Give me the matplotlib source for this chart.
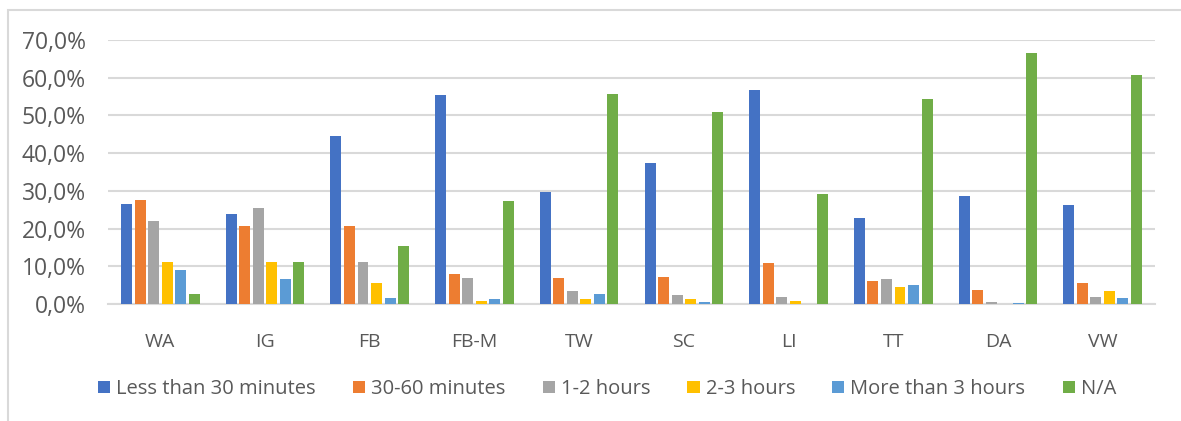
import numpy as np
import matplotlib.pyplot as plt
from matplotlib.patches import Rectangle

categories = ['WA', 'IG', 'FB', 'FB-M', 'TW', 'SC', 'LI', 'TT', 'DA', 'VW']
series_names = ['Less than 30 minutes', '30-60 minutes', '1-2 hours',
                '2-3 hours', 'More than 3 hours', 'N/A']
less_30 = [26.5, 23.8, 44.6, 55.4, 29.7, 37.4, 56.8, 22.7, 28.6, 26.3]
min_30_60 = [27.6, 20.7, 20.7, 7.9, 6.8, 7.2, 10.9, 6.0, 3.6, 5.7]
hours_1_2 = [22.0, 25.5, 11.2, 6.8, 3.4, 2.3, 1.9, 6.7, 0.5, 1.9]
hours_2_3 = [11.2, 11.2, 5.7, 0.8, 1.2, 1.2, 0.8, 4.4, 0.0, 3.4]
more_3 = [9.1, 6.7, 1.5, 1.2, 2.7, 0.5, 0.0, 5.0, 0.2, 1.6]
na = [2.7, 11.2, 15.5, 27.2, 55.7, 50.9, 29.1, 54.4, 66.5, 60.6]

values = [less_30, min_30_60, hours_1_2, hours_2_3, more_3, na]
colors = ['#4472C4', '#ED7D31', '#A5A5A5', '#FFC000', '#5B9BD5', '#70AD47']

plt.rcParams['font.family'] = ['Open Sans', 'DejaVu Sans']
text_color = '#595959'
grid_color = '#D9D9D9'

W, H = 1181, 421
fig = plt.figure(figsize=(W / 100, H / 100), dpi=100)

# chart frame (cropped on right and bottom)
fig.patches.append(Rectangle((8 / W, -0.1), 1.2, 1 - 10 / H + 0.1,
                             transform=fig.transFigure, fill=False,
                             edgecolor=grid_color, linewidth=1.5))

ax = fig.add_axes([108 / W, 1 - 304 / H, (1155 - 108) / W, (304 - 40) / H])

x = np.arange(len(categories))
slot = 0.129
width = 0.105
for i, (vals, col, name) in enumerate(zip(values, colors, series_names)):
    ax.bar(x + (i - 2.5) * slot, vals, width=width, color=col, label=name, zorder=3)

ax.set_xlim(-0.5, len(categories) - 0.5)
ax.set_ylim(0, 70)
ax.set_yticks(np.arange(0, 71, 10))
ax.set_yticklabels([f'{v},0%' for v in range(0, 71, 10)])
ax.set_xticks(x)
ax.set_xticklabels(categories)
ax.yaxis.grid(True, color=grid_color, linewidth=1.5, zorder=0)
for s in ['top', 'right', 'left']:
    ax.spines[s].set_visible(False)
ax.spines['bottom'].set_color(grid_color)
ax.spines['bottom'].set_linewidth(1.5)
ax.tick_params(axis='y', length=0, pad=16, labelsize=16.5, labelcolor=text_color)
ax.tick_params(axis='x', length=0, pad=21, labelsize=14, labelcolor=text_color)

leg = fig.legend(loc='center', bbox_to_anchor=(607 / W, 1 - 389 / H), ncol=6,
                 frameon=False, fontsize=14.5, handlelength=0.6, handleheight=0.6,
                 handletextpad=0.3, columnspacing=1.85)
for t in leg.get_texts():
    t.set_color(text_color)

fig.savefig('out.png', dpi=100)
